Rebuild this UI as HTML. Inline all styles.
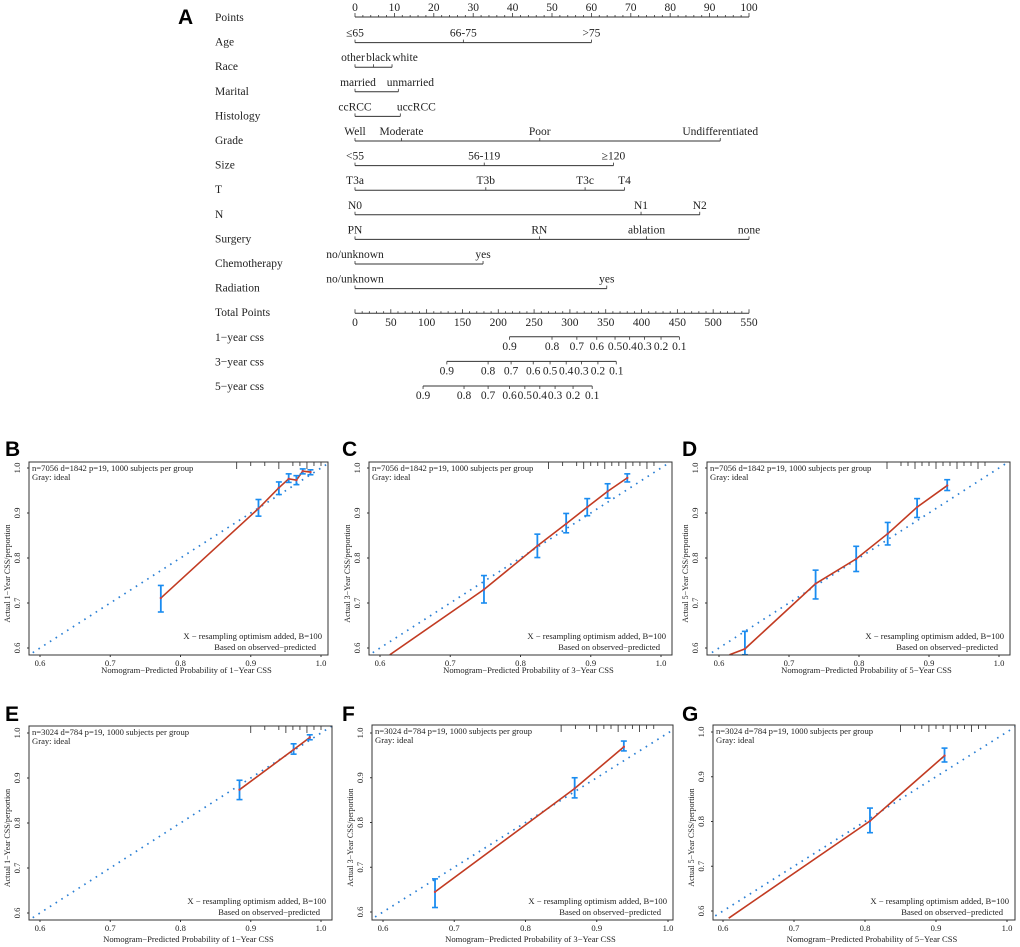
<!DOCTYPE html>
<html><head><meta charset="utf-8">
<style>
html,body{margin:0;padding:0;background:#fff;}
svg{display:block;font-family:"Liberation Serif",serif;}
.lbl{font-size:11.5px;fill:#222;}
.pl{font-family:"Liberation Sans",sans-serif;font-weight:bold;font-size:21px;fill:#000;}
.sm{font-size:8.6px;fill:#222;}
</style></head>
<body>
<svg id="fig" width="1020" height="947" viewBox="0 0 1020 947" xmlns="http://www.w3.org/2000/svg">
<g id="nomo"></g>
<g id="calib"></g>
</svg>
<script>
// ---- Nomogram data ----
const rowNames=['Points','Age','Race','Marital','Histology','Grade','Size','T','N','Surgery','Chemotherapy','Radiation','Total Points','1\u2212year css','3\u2212year css','5\u2212year css'];
const ageLevels=['\u226465','66-75','>75']; const agePts=[0,27.5,60];
const raceLevels=['other','black','white']; const racePts=[0,4.7,9.4];
const maritalLevels=['married','unmarried']; const maritalPts=[0,11];
const histLevels=['ccRCC','uccRCC']; const histPts=[0,11.5];
const gradeLevels=['Well','Moderate','Poor','Undifferentiated']; const gradePts=[0,11.8,46.9,92.7];
const sizeLevels=['<55','56-119','\u2265120']; const sizePts=[0,32.8,65.6];
const tLevels=['T3a','T3b','T3c','T4']; const tPts=[0,33.2,58.4,68.4];
const nLevels=['N0','N1','N2']; const nPts=[0,72.6,87.5];
const surgLevels=['PN','RN','ablation','none']; const surgPts=[0,46.8,74,100];
const chemoLevels=['no/unknown','yes']; const chemoPts=[0,32.5];
const radLevels=['no/unknown','yes']; const radPts=[0,63.9];
const cssLabels=['0.9','0.8','0.7','0.6','0.5','0.4','0.3','0.2','0.1'];
const css1Total=[215.7,275,309.7,337.5,363,383.4,404.2,427.2,452.8];
const css3Total=[128.2,185.8,217.9,248.8,272.3,294.8,316.1,339.1,364.7];
const css5Total=[95,152.2,185.8,215.7,237.1,258,279.3,304.4,331.1];

const NS='http://www.w3.org/2000/svg';
function mk(tag,attrs,parent,text){const e=document.createElementNS(NS,tag);for(const k in attrs)e.setAttribute(k,attrs[k]);if(text!==undefined)e.textContent=text;parent.appendChild(e);return e;}
const nomo=document.getElementById('nomo');
const X0=355,X1=749;
const ptsX=p=>X0+(X1-X0)*p/100;
const totX=t=>X0+(X1-X0)*t/550;
const rowY=i=>17+24.6*i;

let pl=mk('text',{x:178,y:24,class:'pl'},nomo,'A');

rowNames.forEach((n,i)=>{const t=mk('text',{x:215,y:rowY(i)+4,class:'lbl'},nomo,n);
});

(function(){const y=rowY(0);const g=mk('g',{},nomo);
mk('line',{x1:ptsX(0),x2:ptsX(100),y1:y,y2:y,stroke:'#333','stroke-width':1},g);
for(let p=0;p<=100;p+=2){const big=p%10===0;mk('line',{x1:ptsX(p),x2:ptsX(p),y1:y,y2:y-(big?4:2),stroke:'#333','stroke-width':0.8},g);
if(big)mk('text',{x:ptsX(p),y:y-6,class:'lbl','text-anchor':'middle'},g,String(p));}})();

// label nudges (layout only, px) to avoid overlaps as in R nomogram
const labelShift={race:[-2,5,13],marital:[3,12],histology:[0,16]};
const vars=[[ageLevels,agePts,'age'],[raceLevels,racePts,'race'],[maritalLevels,maritalPts,'marital'],[histLevels,histPts,'histology'],[gradeLevels,gradePts,'grade'],[sizeLevels,sizePts,'size'],[tLevels,tPts,'t-stage'],[nLevels,nPts,'n-stage'],[surgLevels,surgPts,'surgery'],[chemoLevels,chemoPts,'chemotherapy'],[radLevels,radPts,'radiation']];
vars.forEach((v,k)=>{const y=rowY(k+1)+1;const g=mk('g',{},nomo);

const pts=v[1];const sh=labelShift[v[2]]||[];
mk('line',{x1:ptsX(pts[0]),x2:ptsX(Math.max(...pts)),y1:y,y2:y,stroke:'#333','stroke-width':1},g);
pts.forEach((p,j)=>{mk('line',{x1:ptsX(p),x2:ptsX(p),y1:y,y2:y-3,stroke:'#333','stroke-width':0.8},g);
mk('text',{x:ptsX(p)+(sh[j]||0),y:y-6,class:'lbl','text-anchor':'middle'},g,v[0][j]);});});

(function(){const y=rowY(12)+1;const g=mk('g',{},nomo);
mk('line',{x1:totX(0),x2:totX(550),y1:y,y2:y,stroke:'#333','stroke-width':1},g);
for(let p=0;p<=550;p+=10){const big=p%50===0;mk('line',{x1:totX(p),x2:totX(p),y1:y,y2:y-(big?4:2),stroke:'#333','stroke-width':0.8},g);
if(big)mk('text',{x:totX(p),y:y+13,class:'lbl','text-anchor':'middle'},g,String(p));}})();

[[css1Total,'css-1-year-scale'],[css3Total,'css-3-year-scale'],[css5Total,'css-5-year-scale']].forEach((c,k)=>{
const y=rowY(13+k);const g=mk('g',{},nomo);
mk('line',{x1:totX(c[0][0]),x2:totX(c[0][c[0].length-1]),y1:y,y2:y,stroke:'#333','stroke-width':1},g);
c[0].forEach((t,j)=>{mk('line',{x1:totX(t),x2:totX(t),y1:y,y2:y+3,stroke:'#333','stroke-width':0.8},g);
mk('text',{x:totX(t),y:y+13,class:'lbl','text-anchor':'middle'},g,cssLabels[j]);});});

// ---- Calibration data ----
const bPredX=[0.772,0.911,0.940,0.954,0.965,0.974,0.985];
const bObsY=[0.711,0.910,0.956,0.976,0.973,0.993,0.991];
const bLo=[0.680,0.893,0.941,0.968,0.963,0.987,0.985];
const bHi=[0.739,0.930,0.969,0.987,0.983,0.998,0.996];
const cPredX=[0.748,0.824,0.865,0.895,0.924,0.952];
const cObsY=[0.730,0.827,0.876,0.913,0.948,0.978];
const cLo=[0.700,0.801,0.856,0.894,0.933,0.969];
const cHi=[0.761,0.853,0.899,0.932,0.965,0.987];
const dPredX=[0.637,0.738,0.796,0.841,0.883,0.926];
const dObsY=[0.598,0.743,0.798,0.854,0.913,0.961];
const dLo=[0.585,0.709,0.770,0.829,0.890,0.950];
const dHi=[0.637,0.773,0.826,0.879,0.932,0.974];
const ePredX=[0.884,0.961,0.984];
const eObsY=[0.874,0.963,0.990];
const eLo=[0.852,0.953,0.985];
const eHi=[0.895,0.976,0.996];
const fPredX=[0.673,0.869,0.938];
const fObsY=[0.645,0.876,0.969];
const fLo=[0.610,0.855,0.960];
const fHi=[0.674,0.900,0.982];
const gPredX=[0.807,0.912];
const gObsY=[0.801,0.947];
const gLo=[0.775,0.933];
const gHi=[0.830,0.964];
const cLineStart=[0.614,0.585], dLineStart=[0.615,0.585], gLineStart=[0.608,0.584];
const xTicks=[0.6,0.7,0.8,0.9,1.0];
const yTicks=[0.6,0.7,0.8,0.9,1.0];
const rugB=[0.88,0.90,0.92,0.94,0.96,0.97,0.98,0.99,1.0];
const rugC=[0.84,0.86,0.88,0.89,0.90,0.91,0.92,0.93,0.94,0.95,0.96,0.97,0.98,0.99];
const rugD=[0.84,0.86,0.87,0.88,0.89,0.90,0.91,0.92,0.93,0.94,0.95,0.96,0.97,0.98];
const rugE=[0.9,0.92,0.94,0.95,0.96,0.97,0.98,0.99,1.0];
const rugF=[0.85,0.87,0.89,0.9,0.91,0.92,0.93,0.94,0.95,0.96,0.97,0.98];
const rugG=[0.85,0.87,0.88,0.89,0.9,0.91,0.92,0.93,0.94,0.95,0.96,0.97];

const panels=[
 {id:'b',letter:'B',lx:5,ly:456,L:29,R:328,T:462,B:655,x6:40,x10:321,y10:468,y6:648,yr:'1',n:'n=7056 d=1842 p=19, 1000 subjects per group',px:bPredX,py:bObsY,lo:bLo,hi:bHi,start:null,rug:rugB,tb:18},
 {id:'c',letter:'C',lx:342,ly:456,L:369,R:672,T:462,B:655,x6:380,x10:661,y10:468,y6:648,yr:'3',n:'n=7056 d=1842 p=19, 1000 subjects per group',px:cPredX,py:cObsY,lo:cLo,hi:cHi,start:cLineStart,rug:rugC,tb:18},
 {id:'d',letter:'D',lx:682,ly:456,L:707,R:1010,T:462,B:655,x6:719,x10:999,y10:468,y6:648,yr:'5',n:'n=7056 d=1842 p=19, 1000 subjects per group',px:dPredX,py:dObsY,lo:dLo,hi:dHi,start:dLineStart,rug:rugD,tb:18},
 {id:'e',letter:'E',lx:5,ly:721,L:29,R:332,T:726,B:920,x6:40,x10:321,y10:733,y6:913,yr:'1',n:'n=3024 d=784 p=19, 1000 subjects per group',px:ePredX,py:eObsY,lo:eLo,hi:eHi,start:null,rug:rugE,tb:22},
 {id:'f',letter:'F',lx:342,ly:721,L:372,R:673,T:725,B:920,x6:383,x10:668,y10:733,y6:912,yr:'3',n:'n=3024 d=784 p=19, 1000 subjects per group',px:fPredX,py:fObsY,lo:fLo,hi:fHi,start:null,rug:rugF,tb:22},
 {id:'g',letter:'G',lx:682,ly:721,L:713,R:1015,T:725,B:920,x6:723,x10:1007,y10:732,y6:911,yr:'5',n:'n=3024 d=784 p=19, 1000 subjects per group',px:gPredX,py:gObsY,lo:gLo,hi:gHi,start:gLineStart,rug:rugG,tb:22}];

const calib=document.getElementById('calib');
const defs=mk('defs',{},document.getElementById('fig'));
panels.forEach(P=>{
 const sx=v=>P.x6+(P.x10-P.x6)*(v-0.6)/0.4;
 const sy=v=>P.y6+(P.y10-P.y6)*(v-0.6)/0.4;
 const g=mk('g',{},calib);
 
 
 const cp=mk('clipPath',{id:'clip'+P.id},defs);
 mk('rect',{x:P.L,y:P.T,width:P.R-P.L,height:P.B-P.T},cp);
 const lt=mk('text',{x:P.lx,y:P.ly,class:'pl'},g,P.letter);
 
 const inner=mk('g',{'clip-path':'url(#clip'+P.id+')'},g);
 const diag=mk('line',{x1:sx(0.5),y1:sy(0.5),x2:sx(1.1),y2:sy(1.1),stroke:'#2a7fd4','stroke-width':1.7,'stroke-dasharray':'1.6 5.2'},inner);
 
 P.rug.forEach((r,i)=>{const h=(i%3===0)?7:4;const rl=mk('line',{x1:sx(r),x2:sx(r),y1:P.T,y2:P.T+h,stroke:'#222','stroke-width':0.8},inner);
 });
 let pts=[];if(P.start)pts.push([sx(P.start[0]),sy(P.start[1])]);
 P.px.forEach((x,i)=>pts.push([sx(x),sy(P.py[i])]));
 const pl2=mk('polyline',{points:pts.map(p=>p.join(',')).join(' '),fill:'none',stroke:'#c23b22','stroke-width':1.6},inner);
 
 P.px.forEach((x,i)=>{const X=sx(x);const eg=mk('g',{},inner);
 
 mk('line',{x1:X,x2:X,y1:sy(P.lo[i]),y2:sy(P.hi[i]),stroke:'#1a8cf0','stroke-width':1.8},eg);
 mk('line',{x1:X-3,x2:X+3,y1:sy(P.lo[i]),y2:sy(P.lo[i]),stroke:'#1a8cf0','stroke-width':1.6},eg);
 mk('line',{x1:X-3,x2:X+3,y1:sy(P.hi[i]),y2:sy(P.hi[i]),stroke:'#1a8cf0','stroke-width':1.6},eg);
 mk('circle',{cx:X,cy:sy(P.py[i]),r:1.2,fill:'#d04040'},eg);});
 const box=mk('rect',{x:P.L,y:P.T,width:P.R-P.L,height:P.B-P.T,fill:'none',stroke:'#333','stroke-width':1},g);
 
 xTicks.forEach(t=>{mk('line',{x1:sx(t),x2:sx(t),y1:P.B,y2:P.B+2,stroke:'#333'},g);
 const tl=mk('text',{x:sx(t),y:P.B+11,class:'sm','text-anchor':'middle'},g,t.toFixed(1));
 });
 yTicks.forEach(t=>{mk('line',{x1:P.L,x2:P.L-2,y1:sy(t),y2:sy(t),stroke:'#333'},g);
 const tx=P.L-9;
 const tl=mk('text',{x:tx,y:sy(t),class:'sm','text-anchor':'middle',transform:'rotate(-90 '+tx+' '+sy(t)+')'},g,t.toFixed(1));
 });
 const xt=mk('text',{x:(P.L+P.R)/2+8,y:P.B+P.tb,class:'sm','text-anchor':'middle'},g,'Nomogram\u2212Predicted Probability of '+P.yr+'\u2212Year CSS');
 
 const yc=(P.T+P.B)/2+15; const ytx=P.L-19;
 const yt=mk('text',{x:ytx,y:yc,class:'sm','text-anchor':'middle',style:'font-size:8px',transform:'rotate(-90 '+ytx+' '+yc+')'},g,'Actual '+P.yr+'\u2212Year CSS/perportion');
 
 const t1=mk('text',{x:P.L+3,y:P.T+9,class:'sm'},g,P.n);
 
 const t2=mk('text',{x:P.L+3,y:P.T+18,class:'sm'},g,'Gray: ideal');
 
 const t3=mk('text',{x:P.R-6,y:P.B-16,class:'sm','text-anchor':'end'},g,'X \u2212 resampling optimism added, B=100');
 
 const t4=mk('text',{x:P.R-12,y:P.B-5,class:'sm','text-anchor':'end'},g,'Based on observed\u2212predicted');
 
});
</script>
</body></html>
